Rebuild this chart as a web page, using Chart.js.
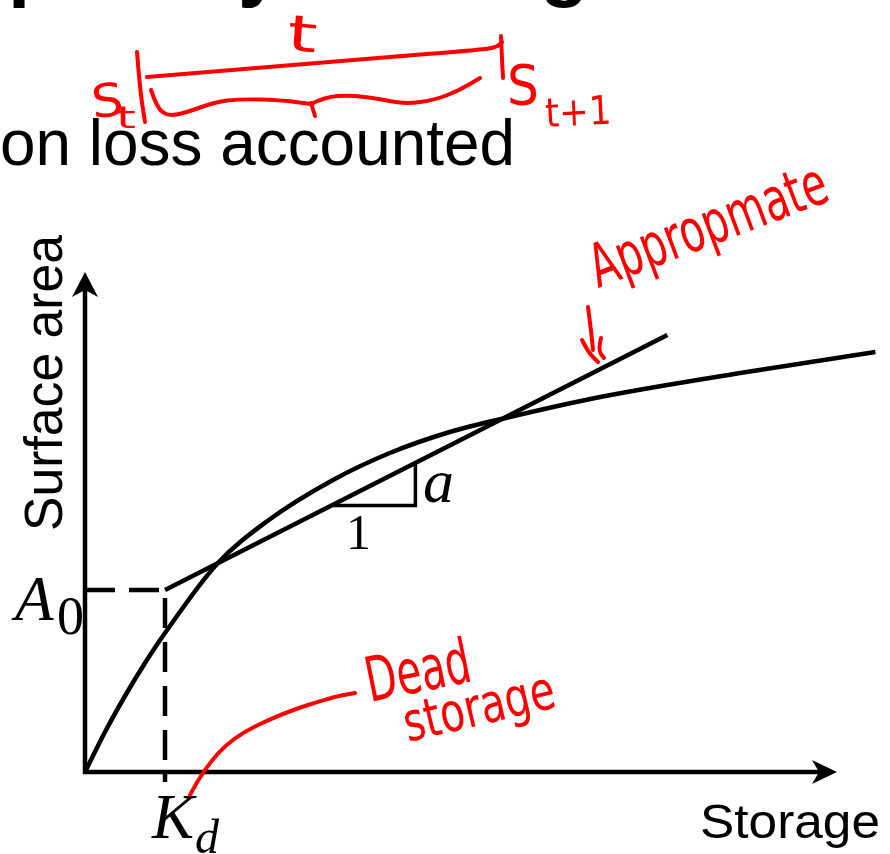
<!DOCTYPE html>
<html>
<head>
<meta charset="utf-8">
<script src="https://cdn.jsdelivr.net/npm/chart.js@4.4.1/dist/chart.umd.min.js"></script>
<style>
  html, body { margin: 0; padding: 0; background: #fff; }
  #wrap { width: 890px; height: 854px; }
</style>
</head>
<body>
<div id="wrap"><canvas id="chart" width="890" height="854"></canvas></div>
<script>
// storage (x) vs surface area (y)
const curveStorage = [0, 0.25, 0.5, 0.75, 1.0, 1.65, 2.28, 3.1, 3.81, 4.56, 5.31, 6.44, 8.19, 9.88];
const curveArea = [0, 0.80, 1.52, 2.18, 2.78, 4.16, 5.02, 5.84, 6.38, 6.80, 7.10, 7.50, 7.98, 8.40];

// linear approximation A = A0 + a (S - Kd)
const lineStorage = [1.0, 7.28];
const lineArea = [3.64, 8.74];

const deadStorage = 1.0; // K_d
const minArea = 3.64; // A_0

// slope triangle "1" / "a"
const triStorage = [3.1, 4.13, 4.13];
const triArea = [5.33, 5.33, 6.17];

const axisEndX = 9.4;
const axisEndY = 10;

const BLACK = "#000";
const RED = "#ff0000";

function pts(xs, ys) {
  return xs.map((x, i) => ({ x: x, y: ys[i] }));
}

function fitText(ctx, text, x, y, font, width, angle) {
  ctx.save();
  ctx.translate(x, y);
  if (angle) ctx.rotate(angle);
  ctx.font = font;
  const w = ctx.measureText(text).width;
  if (width) ctx.scale(width / w, 1);
  ctx.fillText(text, 0, 0);
  ctx.restore();
}

// red pen text: tall, thin, squeezed
function inkText(ctx, text, x, y, size, width, angle) {
  ctx.save();
  ctx.translate(x, y);
  ctx.rotate(angle || 0);
  ctx.font = `${size}px "DejaVu Sans"`;
  const w = ctx.measureText(text).width;
  if (width) ctx.scale(width / w, 1);
  ctx.fillStyle = RED;
  ctx.fillText(text, 0, 0);
  ctx.restore();
}

function ink(ctx, p) {
  ctx.beginPath();
  ctx.moveTo(p[0][0], p[0][1]);
  for (let i = 1; i < p.length - 1; i++) {
    const mx = (p[i][0] + p[i + 1][0]) / 2;
    const my = (p[i][1] + p[i + 1][1]) / 2;
    ctx.quadraticCurveTo(p[i][0], p[i][1], mx, my);
  }
  const last = p[p.length - 1];
  ctx.lineTo(last[0], last[1]);
  ctx.stroke();
}

const axesPlugin = {
  id: "axesPlugin",
  beforeDatasetsDraw(chart) {
    const { ctx, scales } = chart;
    const x0 = scales.x.getPixelForValue(0);
    const y0 = scales.y.getPixelForValue(0);
    const xe = scales.x.getPixelForValue(axisEndX);
    const ye = scales.y.getPixelForValue(axisEndY);
    ctx.save();
    ctx.strokeStyle = BLACK;
    ctx.fillStyle = BLACK;
    ctx.lineWidth = 4.5;
    ctx.lineJoin = "miter";
    ctx.beginPath();
    ctx.moveTo(x0, ye + 16);
    ctx.lineTo(x0, y0);
    ctx.lineTo(xe - 16, y0);
    ctx.stroke();
    // arrow heads
    ctx.beginPath();
    ctx.moveTo(x0, ye);
    ctx.lineTo(x0 - 13, ye + 25);
    ctx.lineTo(x0, ye + 18);
    ctx.lineTo(x0 + 13, ye + 25);
    ctx.closePath();
    ctx.fill();
    ctx.beginPath();
    ctx.moveTo(xe, y0);
    ctx.lineTo(xe - 25, y0 - 12);
    ctx.lineTo(xe - 18, y0);
    ctx.lineTo(xe - 25, y0 + 12);
    ctx.closePath();
    ctx.fill();
    ctx.restore();
  },
  afterDraw(chart) {
    const { ctx, scales } = chart;
    const kx = scales.x.getPixelForValue(deadStorage);
    const ay = scales.y.getPixelForValue(minArea);
    ctx.save();
    ctx.fillStyle = BLACK;
    ctx.textBaseline = "alphabetic";

    // slide title, cut off at the top
    ctx.font = 'bold 80px "Liberation Sans"';
    ctx.fillText("p", 8, -9);
    ctx.fillText("y", 238, -9);
    ctx.fillText("g", 540, -9);
    fitText(ctx, "on loss accounted", 0, 165, '64px "Liberation Sans"', 515);

    // axis titles
    fitText(ctx, "Surface area", 62, 531, '54px "Liberation Sans"', 296, -Math.PI / 2);
    fitText(ctx, "Storage", 700, 838, '48px "Liberation Sans"', 180);

    // A0, Kd, slope labels
    ctx.font = 'italic 63px "Liberation Serif"';
    ctx.fillText("A", kx - 150, ay + 30);
    ctx.font = '54px "Liberation Serif"';
    ctx.fillText("0", kx - 108, ay + 44);
    ctx.font = 'italic 63px "Liberation Serif"';
    ctx.fillText("K", kx - 13, 838);
    ctx.font = 'italic 48px "Liberation Serif"';
    ctx.fillText("d", kx + 30, 853);
    ctx.font = '50px "Liberation Serif"';
    ctx.fillText("1", 346, 549);
    ctx.font = 'italic 62px "Liberation Serif"';
    ctx.fillText("a", 423, 502);

    // red pen notes
    ctx.strokeStyle = RED;
    ctx.lineWidth = 4;
    ctx.lineCap = "round";
    ctx.lineJoin = "round";
    ink(ctx, [[137, 52], [140, 90], [145, 122]]);
    ink(ctx, [[147, 77], [300, 64], [480, 50], [497, 47], [502, 42]]);
    ink(ctx, [[501, 36], [502, 60], [503, 78]]);
    ink(ctx, [[151, 90], [157, 108], [168, 116], [185, 113], [215, 102], [240, 99],
      [280, 100], [311, 104]]);
    ink(ctx, [[311, 103], [315, 116]]);
    ink(ctx, [[311, 104], [325, 97], [350, 95], [380, 99], [405, 104], [435, 100],
      [460, 90], [480, 78]]);
    inkText(ctx, "t", 286, 50, 50, 30, 0.08);
    inkText(ctx, "S", 93, 118, 46, 32, -0.1);
    inkText(ctx, "t", 116, 128, 30, 20, 0);
    inkText(ctx, "S", 507, 104, 56, 32, 0);
    inkText(ctx, "t+1", 546, 127, 40, 66, -0.05);

    inkText(ctx, "Appropmate", 598, 288, 60, 250, -0.36);
    ink(ctx, [[588, 307], [591, 330], [593, 350]]);
    ink(ctx, [[582, 340], [588, 352], [598, 362]]);
    ink(ctx, [[601, 338], [598, 350], [604, 358]]);

    inkText(ctx, "Dead", 370, 702, 62, 106, -0.2);
    inkText(ctx, "storage", 408, 742, 54, 154, -0.23);
    ink(ctx, [[190, 795], [203, 770], [233, 737], [283, 713], [333, 697], [355, 693]]);

    ctx.restore();
  },
};

new Chart(document.getElementById("chart"), {
  type: "scatter",
  data: {
    datasets: [
      {
        label: "A0 / Kd",
        data: pts([0, deadStorage, deadStorage], [minArea, minArea, -0.2]),
        showLine: true,
        borderColor: BLACK,
        borderWidth: 4.5,
        borderDash: [30, 14],
        pointRadius: 0,
        clip: false,
      },
      {
        label: "Linear approximation",
        data: pts(lineStorage, lineArea),
        showLine: true,
        borderColor: BLACK,
        borderWidth: 4.5,
        pointRadius: 0,
        clip: false,
      },
      {
        label: "Slope",
        data: pts(triStorage, triArea),
        showLine: true,
        borderColor: BLACK,
        borderWidth: 3.5,
        pointRadius: 0,
        clip: false,
      },
      {
        label: "Area-storage curve",
        data: pts(curveStorage, curveArea),
        showLine: true,
        borderColor: BLACK,
        borderWidth: 4.5,
        pointRadius: 0,
        cubicInterpolationMode: "monotone",
        clip: false,
      },
    ],
  },
  options: {
    responsive: false,
    animation: false,
    layout: { padding: { left: 85, right: 5, top: 272, bottom: 82 } },
    scales: {
      x: { type: "linear", min: 0, max: 10, display: false },
      y: { type: "linear", min: 0, max: 10, display: false },
    },
    plugins: {
      legend: { display: false },
      tooltip: { enabled: false },
    },
  },
  plugins: [axesPlugin],
});
</script>
</body>
</html>
